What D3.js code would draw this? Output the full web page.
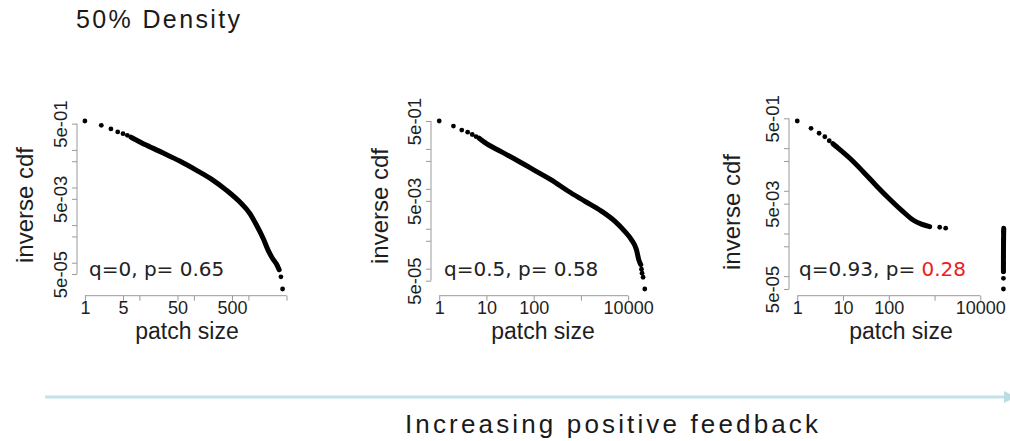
<!DOCTYPE html>
<html><head><meta charset="utf-8">
<script src="https://cdn.jsdelivr.net/npm/d3@7"></script>
<style>body{margin:0;background:#fff} svg{display:block}</style>
</head><body>
<svg id="chart" width="1010" height="441"></svg>
<script>
// ---------- text ----------
const titleText = "50% Density";
const feedbackText = "Increasing positive feedback";
const yAxisTitle = "inverse cdf";
const xAxisTitle = "patch size";
const panelLabels = ["q=0, p= ", "q=0.5, p= ", "q=0.93, p= "];
const panelPValues = ["0.65", "0.58", "0.28"];
const panelPHighlight = [false, false, true];

// ---------- ticks ----------
const yTickValues = [5e-1, 1e-1, 5e-2, 1e-2, 5e-3, 1e-3, 5e-4, 1e-4, 5e-5];
const yTickLabels = ["5e-01", "", "", "", "5e-03", "", "", "", "5e-05"];
const xTickValuesA = [1, 5, 10, 50, 100, 500, 1000, 5000];
const xTickLabelsA = ["1", "5", "", "50", "", "500", "", ""];
const xTickValuesB = [1, 10, 100, 1000, 10000];
const xTickLabelsB = ["1", "10", "100", "", "10000"];

// ---------- data: [patch size, inverse cdf] ----------
// q = 0
const q0Dots = [[1,0.586],[2,0.45],[3,0.36],[4,0.30],[5,0.27],[6,0.244],[3950,4.2e-5],[4240,2.0e-5]];
const q0Curve = [[7,0.218],[13.6,0.132],[27.3,0.0826],[55,0.0506],[112,0.0286],[226,0.0155],[398,0.0084],
  [698,0.0041],[1066,0.00202],[1413,9.9e-4],[1870,4.4e-4],[2308,2.13e-4],[2780,1.29e-4],[3290,9.1e-5],[3670,6.5e-5]];
const q0Tail = [];
// q = 0.5
const q05Dots = [[1,0.5],[2,0.374],[3,0.296],[4,0.262],[5,0.23],[6,0.204],[19150,9.7e-5],[19700,7.7e-5],[20700,6.1e-5],[22500,3.1e-5]];
const q05Curve = [[7,0.185],[9,0.148],[20.4,0.0854],[46,0.0506],[104,0.0291],[235,0.0167],[531,0.00883],[1200,0.00494],
  [2710,0.00277],[5200,0.00155],[8480,8.6e-4],[11750,5.3e-4],[15000,2.98e-4],[16800,1.66e-4],[18500,1.26e-4]];
const q05Tail = [];
// q = 0.93
const q93Dots = [[1,0.432],[2,0.292],[3,0.223],[4,0.185],[5,0.149],[1295,0.0014],[1750,0.00133],
  [32000,1.09e-3],[32000,7.06e-4],[32000,4.58e-4],[32000,2.98e-4],[32000,1.94e-4],[32000,1.26e-4],[32000,8.9e-5],[32000,5.0e-5]];
const q93Curve = [[6,0.127],[7.2,0.108],[14.1,0.0578],[27.5,0.0281],[54,0.013],[105,0.00634],[205,0.00325],
  [339,0.00207],[516,0.00165],[784,0.00145]];
const q93Tail = [[32500,1.33e-3],[32300,8.75e-4],[32100,4.6e-4],[32000,2.4e-4],[32000,1.3e-4]];

// ---------- layout ----------
const panels = [
  {dots:q0Dots, curve:q0Curve, tail:q0Tail, xt:xTickValuesA, xl:xTickLabelsA, left:77, right:290.5, yTitleOff:44, yTitleY:205, xTitleX:187, labelX:89},
  {dots:q05Dots, curve:q05Curve, tail:q05Tail, xt:xTickValuesB, xl:xTickLabelsB, left:431, right:653, yTitleOff:43, yTitleY:206, xTitleX:543, labelX:444},
  {dots:q93Dots, curve:q93Curve, tail:q93Tail, xt:xTickValuesB, xl:xTickLabelsB, left:789, right:1012, yTitleOff:49, yTitleY:212, xTitleX:901, labelX:799}
];
const plotTop = 114.3, plotBottom = 295.7;
const axisColor = "#9a9a9a", textColor = "#1e1e1e";
const sans = "'Liberation Sans', Arial, Helvetica, sans-serif";

const svg = d3.select("#chart");

function paddedLog(vals){
  const lo = Math.log10(d3.min(vals)), hi = Math.log10(d3.max(vals));
  const pad = (hi - lo) * 0.04;
  return [Math.pow(10, lo - pad), Math.pow(10, hi + pad)];
}

panels.forEach((p, i) => {
  const all = p.dots.concat(p.curve, p.tail);
  const x = d3.scaleLog().domain(paddedLog(all.map(d => d[0]))).range([p.left, p.right]);
  const y = d3.scaleLog().domain(paddedLog(all.map(d => d[1]))).range([plotBottom, plotTop]);
  const g = svg.append("g");

  // x axis
  const xa = g.append("g").attr("transform", `translate(0,${plotBottom})`)
    .call(d3.axisBottom(x).tickValues(p.xt).tickFormat((d, k) => p.xl[k]).tickSize(5).tickPadding(1));
  xa.select(".domain").remove();
  xa.append("line").attr("x1", x(p.xt[0])).attr("x2", x(p.xt[p.xt.length - 1]))
    .attr("stroke", axisColor).attr("stroke-width", 1);
  xa.selectAll(".tick line").attr("stroke", axisColor);
  xa.selectAll(".tick text").attr("fill", textColor).style("font-family", sans).style("font-size", "18px");

  // y axis
  const ya = g.append("g").attr("transform", `translate(${p.left},0)`)
    .call(d3.axisLeft(y).tickValues(yTickValues).tickFormat((d, k) => yTickLabels[k]).tickSize(5));
  ya.select(".domain").remove();
  ya.append("line").attr("y1", y(yTickValues[0])).attr("y2", y(yTickValues[yTickValues.length - 1]))
    .attr("stroke", axisColor).attr("stroke-width", 1);
  ya.selectAll(".tick line").attr("stroke", axisColor);
  ya.selectAll(".tick text").attr("x", 0).attr("dy", 0).attr("text-anchor", "middle")
    .attr("transform", "translate(-10,0) rotate(-90)")
    .attr("fill", textColor).style("font-family", sans).style("font-size", "18.5px");

  // axis titles
  g.append("text").attr("text-anchor", "middle")
    .attr("transform", `translate(${p.left - p.yTitleOff},${p.yTitleY}) rotate(-90)`)
    .attr("fill", textColor).style("font-family", sans).style("font-size", "24px")
    .attr("textLength", 116).attr("lengthAdjust", "spacingAndGlyphs")
    .text(yAxisTitle);
  g.append("text").attr("text-anchor", "middle").attr("x", p.xTitleX).attr("y", 338.5)
    .attr("fill", textColor).style("font-family", sans).style("font-size", "23px")
    .text(xAxisTitle);

  // data: dense parts (thousands of overlapping points)
  const line = d3.line().x(d => x(d[0])).y(d => y(d[1]));
  [p.curve, p.tail].filter(s => s.length).forEach(seg => {
    g.append("path").datum(seg)
      .attr("d", line.curve(seg === p.curve ? d3.curveMonotoneX : d3.curveLinear))
      .attr("fill", "none").attr("stroke", "#000").attr("stroke-width", 5)
      .attr("stroke-linecap", "round").attr("stroke-linejoin", "round");
  });
  // data: individual points
  g.selectAll("circle.pt").data(p.dots).enter().append("circle")
    .attr("class", "pt").attr("cx", d => x(d[0])).attr("cy", d => y(d[1])).attr("r", 2.4).attr("fill", "#000");

  // annotation
  const t = g.append("text").attr("x", p.labelX).attr("y", 276)
    .style("font-family", "'DejaVu Sans', Verdana, sans-serif").style("font-size", "20px").attr("fill", "#222");
  t.append("tspan").text(panelLabels[i]);
  t.append("tspan").attr("fill", panelPHighlight[i] ? "#ee1c1c" : "#222").text(panelPValues[i]);
});

// title
svg.append("text").attr("x", 76).attr("y", 28)
  .style("font-family", sans).style("font-size", "25px").attr("fill", "#1a1a1a")
  .attr("textLength", 164).attr("lengthAdjust", "spacing").text(titleText);

// feedback arrow
svg.append("line").attr("x1", 45).attr("x2", 1006).attr("y1", 397).attr("y2", 397)
  .attr("stroke", "#c4e3e8").attr("stroke-width", 3.2);
svg.append("path").attr("d", "M1004,391 L1016,397 L1004,403 Z").attr("fill", "#b9dde3");
svg.append("text").attr("x", 405).attr("y", 433)
  .style("font-family", sans).style("font-size", "26px").attr("fill", "#1a1a1a")
  .attr("textLength", 413).attr("lengthAdjust", "spacing").text(feedbackText);
</script>
</body></html>
